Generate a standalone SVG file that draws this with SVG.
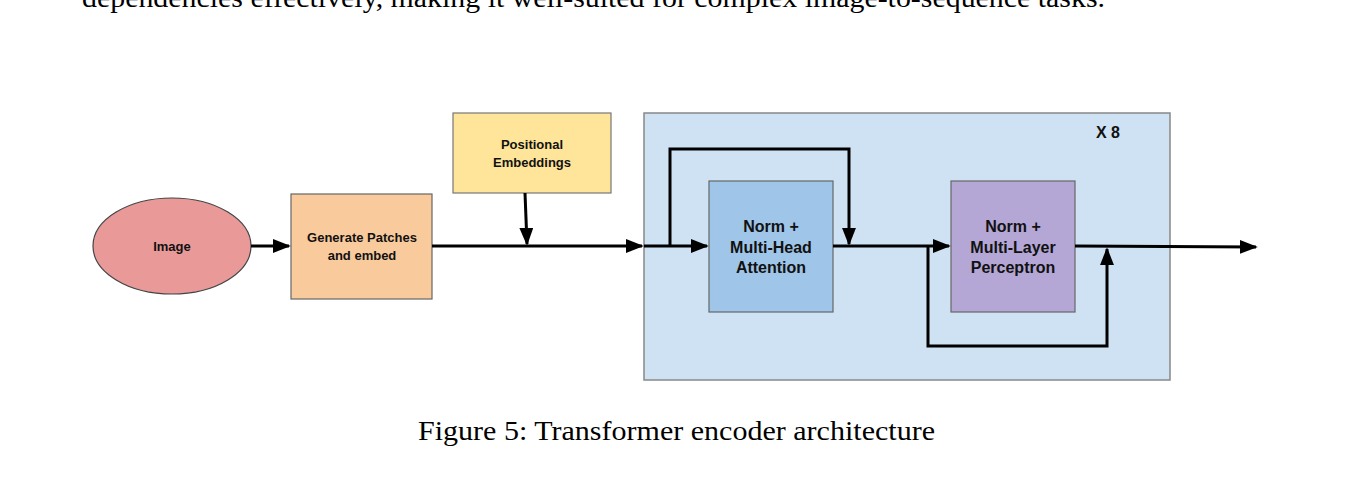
<svg xmlns="http://www.w3.org/2000/svg" width="1347" height="478" viewBox="0 0 1347 478">
<style>
.n{font-family:"Liberation Sans",Arial,sans-serif;font-weight:bold;fill:#111;text-anchor:middle}
.s{font-size:13px}.b{font-size:16px}
.c{stroke:#000;stroke-width:3;fill:none}
.cap{font-family:"Liberation Serif","Times New Roman",serif;font-size:27px;fill:#000}
</style>
<defs>
<marker id="A" viewBox="0 0 10 10" refX="9" refY="5" markerWidth="18" markerHeight="14" orient="auto" markerUnits="userSpaceOnUse" preserveAspectRatio="none"><path d="M0,0 L10,5 L0,10 z" fill="#000"/></marker></defs>
<rect width="1347" height="478" fill="#fff"/>
<text class="cap" x="82" y="7" textLength="1023" lengthAdjust="spacingAndGlyphs">dependencies effectively, making it well-suited for complex image-to-sequence tasks.</text>
<g id="block"><rect x="644" y="113" width="526" height="267" fill="#cfe2f3" stroke="#888" stroke-width="1.5"/><text class="n b" x="1108" y="138">X 8</text></g>
<g id="image"><ellipse cx="172" cy="246" rx="79" ry="48" fill="#ea9999" stroke="#444" stroke-width="1.2"/><text class="n s" x="172" y="251">Image</text></g>
<g id="patches"><rect x="291" y="194" width="141" height="105" fill="#f9cb9c" stroke="#666" stroke-width="1.2"/><text class="n s" x="362" y="242">Generate Patches</text><text class="n s" x="362" y="260">and embed</text></g>
<g id="pos"><rect x="453" y="113" width="158" height="80" fill="#ffe599" stroke="#777" stroke-width="1.2"/><text class="n s" x="532" y="149">Positional</text><text class="n s" x="532" y="167">Embeddings</text></g>
<g id="mha"><rect x="709" y="181" width="124" height="131" fill="#9fc5e8" stroke="#666" stroke-width="1.2"/><text class="n b" x="771" y="232">Norm +</text><text class="n b" x="771" y="253">Multi-Head</text><text class="n b" x="771" y="273">Attention</text></g>
<g id="mlp"><rect x="951" y="181" width="124" height="131" fill="#b4a7d6" stroke="#666" stroke-width="1.2"/><text class="n b" x="1013" y="232">Norm +</text><text class="n b" x="1013" y="253">Multi-Layer</text><text class="n b" x="1013" y="273">Perceptron</text></g>
<g id="connectors">
<path class="c" d="M251,246 H289" marker-end="url(#A)"/>
<path class="c" d="M432,246 H642" marker-end="url(#A)"/>
<path class="c" d="M525,193 L527,244" marker-end="url(#A)"/>
<path class="c" d="M644,246 H707" marker-end="url(#A)"/>
<path class="c" d="M670,246 V149 H849 V244" marker-end="url(#A)"/>
<path class="c" d="M833,246 H949" marker-end="url(#A)"/>
<path class="c" d="M928,246 V346 H1107 V249" marker-end="url(#A)"/>
<path class="c" d="M1075,246 L1256,247" marker-end="url(#A)"/>
</g>
<text class="cap" x="418" y="440" textLength="517" lengthAdjust="spacingAndGlyphs">Figure 5: Transformer encoder architecture</text>
</svg>
